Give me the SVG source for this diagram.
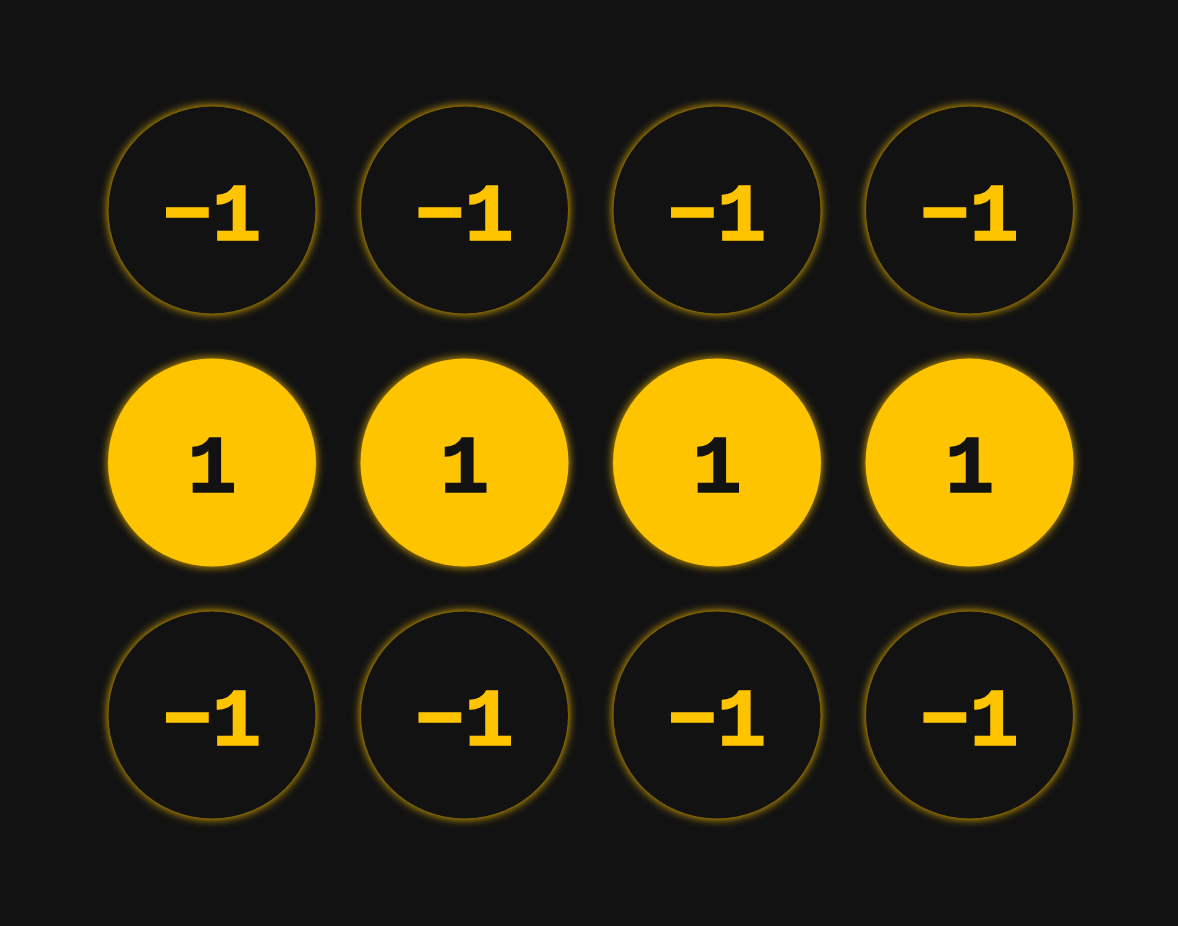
<svg xmlns="http://www.w3.org/2000/svg" width="1178" height="926" viewBox="0 0 1178 926">
<defs>
<filter id="glow" x="-25%" y="-25%" width="150%" height="150%">
<feGaussianBlur stdDeviation="5"/>
</filter>
<style>
.halo{fill:#FFC400;opacity:0.9;filter:url(#glow)}
.off{fill:#121212;stroke:#806200;stroke-width:1}
.on{fill:#FFC400}
.t{font-family:'Liberation Mono',monospace;font-weight:bold;font-size:82px;text-anchor:middle;stroke-width:1.6;stroke-linejoin:miter}
.toff{fill:#FFC400;stroke:#FFC400}
.ton{fill:#121212;stroke:#121212}
</style>
</defs>
<rect width="1178" height="926" fill="#121212"/>
<g id="n-0-0"><circle class="halo" cx="212" cy="210" r="104"/><circle class="off" cx="212" cy="210" r="104"/><text class="t toff" x="212" y="240">−1</text></g>
<g id="n-0-1"><circle class="halo" cx="464.5" cy="210" r="104"/><circle class="off" cx="464.5" cy="210" r="104"/><text class="t toff" x="464.5" y="240">−1</text></g>
<g id="n-0-2"><circle class="halo" cx="717" cy="210" r="104"/><circle class="off" cx="717" cy="210" r="104"/><text class="t toff" x="717" y="240">−1</text></g>
<g id="n-0-3"><circle class="halo" cx="969.5" cy="210" r="104"/><circle class="off" cx="969.5" cy="210" r="104"/><text class="t toff" x="969.5" y="240">−1</text></g>
<g id="n-1-0"><circle class="halo" cx="212" cy="462.5" r="104"/><circle class="on" cx="212" cy="462.5" r="104"/><text class="t ton" x="212" y="492">1</text></g>
<g id="n-1-1"><circle class="halo" cx="464.5" cy="462.5" r="104"/><circle class="on" cx="464.5" cy="462.5" r="104"/><text class="t ton" x="464.5" y="492">1</text></g>
<g id="n-1-2"><circle class="halo" cx="717" cy="462.5" r="104"/><circle class="on" cx="717" cy="462.5" r="104"/><text class="t ton" x="717" y="492">1</text></g>
<g id="n-1-3"><circle class="halo" cx="969.5" cy="462.5" r="104"/><circle class="on" cx="969.5" cy="462.5" r="104"/><text class="t ton" x="969.5" y="492">1</text></g>
<g id="n-2-0"><circle class="halo" cx="212" cy="715" r="104"/><circle class="off" cx="212" cy="715" r="104"/><text class="t toff" x="212" y="745">−1</text></g>
<g id="n-2-1"><circle class="halo" cx="464.5" cy="715" r="104"/><circle class="off" cx="464.5" cy="715" r="104"/><text class="t toff" x="464.5" y="745">−1</text></g>
<g id="n-2-2"><circle class="halo" cx="717" cy="715" r="104"/><circle class="off" cx="717" cy="715" r="104"/><text class="t toff" x="717" y="745">−1</text></g>
<g id="n-2-3"><circle class="halo" cx="969.5" cy="715" r="104"/><circle class="off" cx="969.5" cy="715" r="104"/><text class="t toff" x="969.5" y="745">−1</text></g>
<g id="connectors"></g>
</svg>
